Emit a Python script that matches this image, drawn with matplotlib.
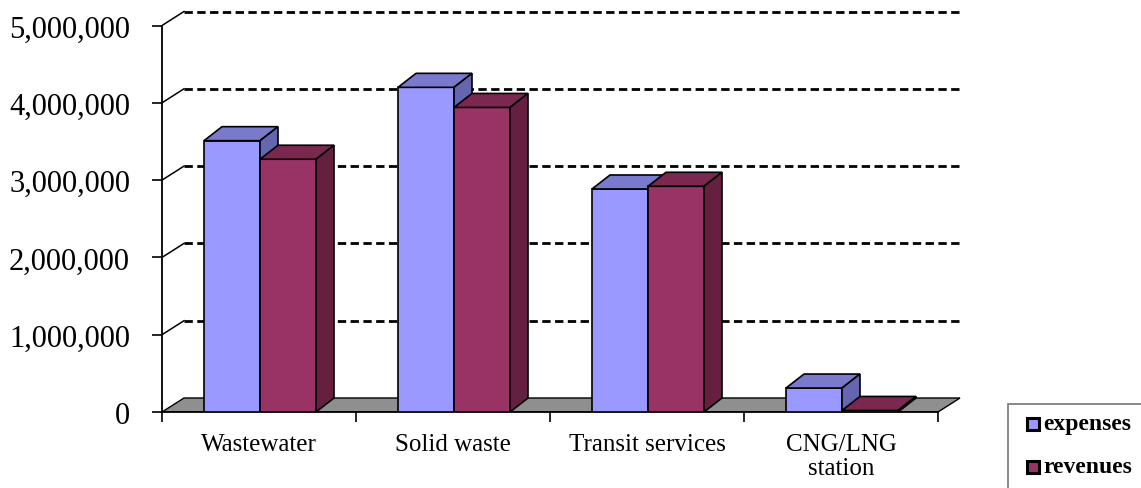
import matplotlib.pyplot as plt
from matplotlib.patches import Polygon, Rectangle
from matplotlib.ticker import FuncFormatter

plt.rcParams['font.family'] = ['Liberation Serif', 'DejaVu Serif']

categories = ['Wastewater', 'Solid waste', 'Transit services', 'CNG/LNG\nstation']
expenses = [3510000, 4200000, 2885000, 310000]
revenues = [3270000, 3940000, 2920000, 20000]
series_names = ['expenses', 'revenues']

# face colours: front, top, side
exp_cols = ('#9999ff', '#7a7acc', '#6565b0')
rev_cols = ('#993366', '#7a2850', '#66203f')

W, H = 1141, 489
fig = plt.figure(figsize=(W / 100, H / 100), dpi=100)

# axes in pixels: 194 px per category, 77.3 px per million
PX_X = 1 / 194
PX_Y = 1e6 / 77.3
ax_left, ax_w = 162, 800
ax_bottom = H - 413
ax_h = 403.5
ax = fig.add_axes([ax_left / W, ax_bottom / H, ax_w / W, ax_h / H])
ax.set_xlim(0, ax_w * PX_X)
ax.set_ylim(0, ax_h * PX_Y)

# depth of the walls / bars
wdx, wdy = 22 * PX_X, 14 * PX_Y
bdx, bdy = 18 * PX_X, 14 * PX_Y

n = len(categories)

# floor
floor = Polygon([(0, 0), (n, 0), (n + wdx, wdy), (wdx, wdy)], closed=True,
                facecolor='#8f8f8f', edgecolor='black', lw=1.0, zorder=1)
ax.add_patch(floor)

# back-wall gridlines and left-wall slants
for v in range(1, 6):
    val = v * 1e6
    ax.plot([wdx, n + wdx], [val + wdy, val + wdy], color='black', lw=2.0,
            ls=(0, (3, 1.6)), zorder=0.5)
    ax.plot([0, wdx], [val, val + wdy], color='black', lw=1.1, zorder=0.5)


def bar3d(x0, x1, v, cols):
    ax.add_patch(Rectangle((x0, 0), x1 - x0, v, facecolor=cols[0],
                           edgecolor='black', lw=1.2, zorder=3))
    ax.add_patch(Polygon([(x0, v), (x1, v), (x1 + bdx, v + bdy), (x0 + bdx, v + bdy)],
                         closed=True, facecolor=cols[1], edgecolor='black', lw=1.2, zorder=3))
    ax.add_patch(Polygon([(x1, 0), (x1, v), (x1 + bdx, v + bdy), (x1 + bdx, bdy)],
                         closed=True, facecolor=cols[2], edgecolor='black', lw=1.2, zorder=3))


bw = 56 * PX_X
start = 42 * PX_X
for i in range(n):
    x0 = i + start
    bar3d(x0, x0 + bw, expenses[i], exp_cols)
    bar3d(x0 + bw, x0 + 2 * bw, revenues[i], rev_cols)

# axes
for s in ('top', 'right'):
    ax.spines[s].set_visible(False)
ax.spines['left'].set_bounds(0, 5e6)
ax.spines['bottom'].set_bounds(0, n)
ax.spines['left'].set_linewidth(1.3)
ax.spines['bottom'].set_linewidth(1.3)
ax.spines['left'].set_zorder(4)

ax.set_yticks([v * 1e6 for v in range(6)])
ax.yaxis.set_major_formatter(FuncFormatter(lambda v, p: f'{int(v):,}'))
ax.tick_params(axis='y', direction='out', length=7, width=1.2, pad=16, labelsize=22)

ax.set_xticks(range(n + 1))
ax.set_xticklabels([''] * (n + 1))
ax.tick_params(axis='x', which='major', direction='out', length=7, width=1.2)
ax.set_xticks([i + 0.5 for i in range(n)], minor=True)
ax.set_xticklabels(categories, minor=True)
ax.tick_params(axis='x', which='minor', length=0, pad=15, labelsize=18)
for t in ax.get_xticklabels(minor=True):
    t.set_linespacing(1.1)

# legend box (runs off the right and bottom edge)
def fx(px):
    return px / W


def fy(py):
    return (H - py) / H


fig.add_artist(Rectangle((fx(1008), fy(520)), fx(200), fy(405) - fy(520),
                         transform=fig.transFigure, facecolor='none',
                         edgecolor='#7f7f7f', lw=1.3))
for name, cols, cy in zip(series_names, (exp_cols, rev_cols), (425, 468)):
    fig.add_artist(Rectangle((fx(1027), fy(cy + 6)), fx(12), fy(cy - 6) - fy(cy + 6),
                             transform=fig.transFigure, facecolor=cols[0],
                             edgecolor='black', lw=2.2))
    fig.text(fx(1043), fy(cy), name, fontsize=17, fontweight='bold',
             va='center', ha='left')

fig.savefig('out.png', dpi=100)
